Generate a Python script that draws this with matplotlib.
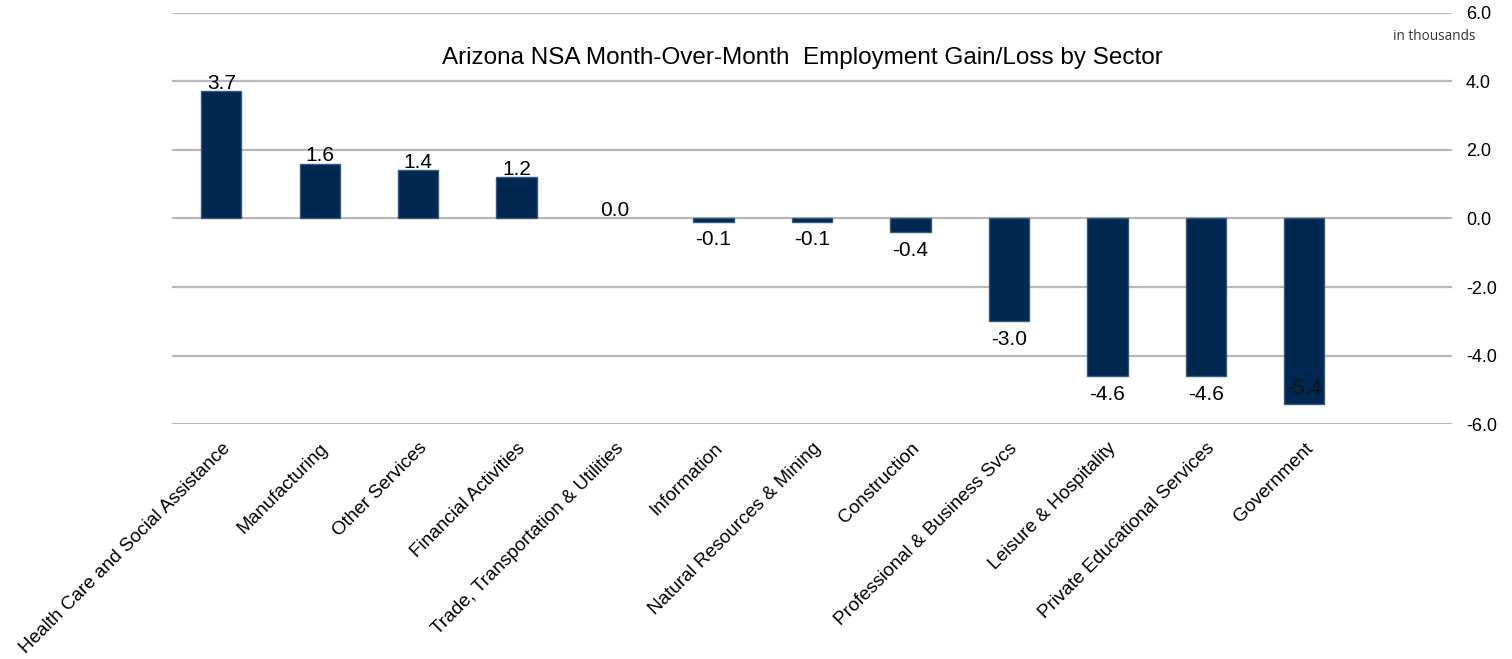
import matplotlib

matplotlib.use("Agg")
import matplotlib.pyplot as plt

plt.rcParams["font.family"] = ["Liberation Sans", "DejaVu Sans"]

sectors = [
    "Health Care and Social Assistance",
    "Manufacturing",
    "Other Services",
    "Financial Activities",
    "Trade, Transportation & Utilities",
    "Information",
    "Natural Resources & Mining",
    "Construction",
    "Professional & Business Svcs",
    "Leisure & Hospitality",
    "Private Educational Services",
    "Government",
]
change = [3.7, 1.6, 1.4, 1.2, 0.0, -0.1, -0.1, -0.4, -3.0, -4.6, -4.6, -5.4]
y_ticks = [-6.0, -4.0, -2.0, 0.0, 2.0, 4.0, 6.0]

bar_color = "#00274f"
edge_color = "#36597f"
grid_color = "#b8b8b8"

fig = plt.figure(figsize=(15.12, 6.59), dpi=100)
ax = fig.add_axes([0.1138, 0.356, 0.8465, 0.625])

x = list(range(len(sectors)))
# zero-height bars get no outline so they don't show as a line
edge_widths = [1.0 if v != 0 else 0.0 for v in change]
ax.bar(x, change, width=0.41, color=bar_color, edgecolor=edge_color,
       linewidth=edge_widths, zorder=3)

ax.set_xlim(-0.5, 12.5)
ax.set_ylim(-6, 6)
ax.set_yticks(y_ticks)
ax.set_yticklabels([f"{v:.1f}" for v in y_ticks])
ax.yaxis.tick_right()
ax.tick_params(axis="y", length=0, pad=10, labelsize=13)
ax.tick_params(axis="x", length=0, pad=11)
ax.set_xticks(x)
ax.set_xticklabels(sectors, rotation=45, ha="right", rotation_mode="anchor", fontsize=13.7)
for spine in ax.spines.values():
    spine.set_visible(False)
ax.grid(axis="y", color=grid_color, linewidth=1.6, zorder=0)
ax.set_axisbelow(True)

ymin = ax.get_ylim()[0]
for xi, v in zip(x, change):
    label = f"{v:.1f}"
    if v >= 0:
        ax.annotate(label, (xi, v), xytext=(0, -1), textcoords="offset points",
                    ha="center", va="bottom", fontsize=15, zorder=4)
    elif v - 1.0 < ymin:
        ax.annotate(label, (xi, v), xytext=(0, 4), textcoords="offset points",
                    ha="center", va="bottom", fontsize=15, color="#111111", zorder=4)
    else:
        ax.annotate(label, (xi, v), xytext=(0, -6), textcoords="offset points",
                    ha="center", va="top", fontsize=15, zorder=4)

fig.text(0.531, 0.912, "Arizona NSA Month-Over-Month  Employment Gain/Loss by Sector",
         ha="center", va="center", fontsize=17.5)
fig.text(0.976, 0.945, "in thousands", ha="right", va="center", fontsize=9.8,
         family=["Open Sans", "DejaVu Sans"], color="#333333")

fig.savefig("out.png", dpi=100)
plt.close(fig)
